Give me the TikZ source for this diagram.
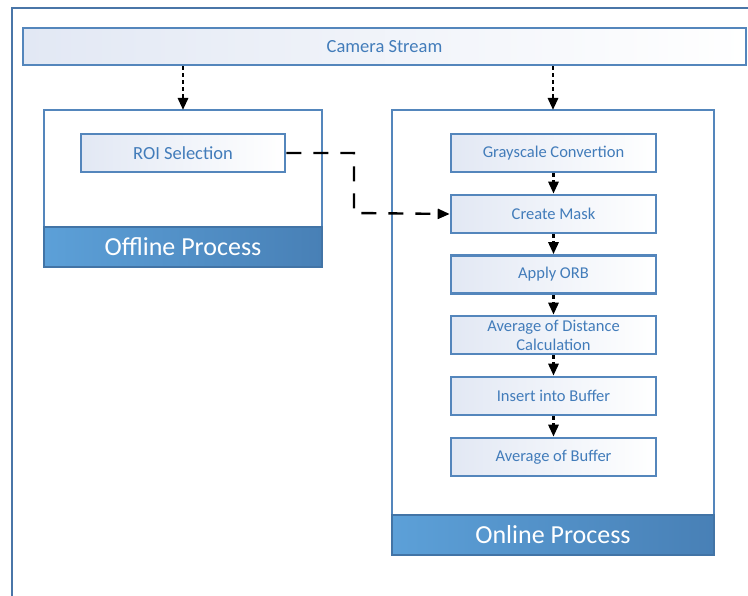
\documentclass[tikz,border=0pt]{standalone}
\usepackage{fontspec}
\setmainfont{Carlito}
\usetikzlibrary{arrows.meta}
\definecolor{frameblue}{RGB}{74,118,168}
\definecolor{boxblue}{RGB}{84,134,188}
\definecolor{txtblue}{RGB}{66,124,186}
\definecolor{lav}{RGB}{226,232,244}
\definecolor{bandL}{RGB}{92,160,216}
\definecolor{bandR}{RGB}{72,128,182}
\definecolor{bandB}{RGB}{66,116,166}
\tikzset{
  x=1pt,y=-1pt,
  procbox/.style={draw=boxblue,line width=2.6pt,left color=lav,right color=white,
    text=txtblue,font=\fontsize{16.5}{19}\selectfont,align=center,inner sep=0pt},
  groupbox/.style={draw=boxblue,line width=2.6pt,fill=white},
  band/.style={draw=bandB,line width=2.6pt,left color=bandL,right color=bandR,
    text=white,font=\fontsize{26}{30}\selectfont,inner sep=0pt},
  dotarrow/.style={line width=2.8pt,dash pattern=on 4pt off 3pt,
    -{Triangle[width=10pt,length=12pt]}},
  dasharrow/.style={line width=2.4pt,dash pattern=on 15pt off 12pt,
    -{Triangle[width=10pt,length=12pt]}},
}
\begin{document}
\begin{tikzpicture}
\useasboundingbox (0,0) rectangle (748,596);
\fill[white] (0,0) rectangle (748,596);
% outer frame
\draw[frameblue,line width=2.4pt] (12,600) -- (12,8) -- (752,8);
% camera stream
\node[procbox,minimum width=723pt,minimum height=37pt,font=\fontsize{18.5}{22}\selectfont] (cam) at (384.5,46.5) {Camera Stream};
% offline group
\draw[groupbox] (44,110) rectangle (322,267);
\node[band,minimum width=278pt,minimum height=40pt] (offband) at (183,247) {Offline Process};
\coordinate (offtop) at (183,110);
\node[procbox,minimum width=204pt,minimum height=38pt,font=\fontsize{18.5}{22}\selectfont] (roi) at (183,153) {ROI Selection};
% online group
\draw[groupbox] (392,110) rectangle (714,555);
\node[band,minimum width=322pt,minimum height=40pt] (onband) at (553,535) {Online Process};
\coordinate (ontop) at (553,110);
\node[procbox,minimum width=205pt,minimum height=38pt] (g1) at (553.5,153) {Grayscale Convertion};
\node[procbox,minimum width=205pt,minimum height=38pt] (g2) at (553.5,214) {Create Mask};
\node[procbox,minimum width=205pt,minimum height=38pt] (g3) at (553.5,274.5) {Apply ORB};
\node[procbox,minimum width=205pt,minimum height=38pt,font=\fontsize{16.5}{19}\selectfont] (g4) at (553.5,335) {Average of Distance\\Calculation};
\node[procbox,minimum width=205pt,minimum height=38pt] (g5) at (553.5,396) {Insert into Buffer};
\node[procbox,minimum width=205pt,minimum height=38pt] (g6) at (553.5,457) {Average of Buffer};
% arrows
\draw[dotarrow] (cam.south -| offtop) -- (offtop);
\draw[dotarrow] (cam.south -| ontop) -- (ontop);
\draw[dotarrow] (g1) -- (g2);
\draw[dotarrow] (g2) -- (g3);
\draw[dotarrow] (g3) -- (g4);
\draw[dotarrow] (g4) -- (g5);
\draw[dotarrow] (g5) -- (g6);
\draw[dasharrow] (roi.east) -- (354,153) -- (354,213) -- (g2.west);
\end{tikzpicture}
\end{document}
